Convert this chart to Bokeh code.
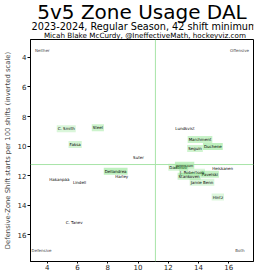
from bokeh.plotting import figure
from bokeh.layouts import column
from bokeh.models import ColumnDataSource, Span, Label, Range1d, FixedTicker
from bokeh.embed import file_html
from bokeh.resources import INLINE
from bokeh.core.properties import value

# ---- data ----
players = ["C. Smith", "Steel", "Faksa", "Suter", "Lundkvist", "Marchment", "Seguin",
           "Duchene", "Dadonov", "Johnston", "Heiskanen", "Pavelski", "J. Robertson",
           "Stankoven", "Jamie Benn", "Hintz", "Dellandrea", "Harley", "Hakanpää",
           "Lindell", "C. Tanev"]
oz_starts = [5.25, 7.34, 5.84, 10.03, 13.10, 14.10, 13.77,
             14.95, 12.66, 13.08, 15.60, 14.75, 13.57,
             13.38, 14.23, 15.28, 8.52, 8.92, 4.79,
             6.13, 5.77]
dz_starts = [8.83, 8.76, 9.90, 10.77, 8.83, 9.56, 10.17,
             10.03, 11.44, 11.30, 11.50, 11.90, 11.78,
             12.04, 12.45, 13.45, 11.71, 12.04, 12.24,
             12.45, 15.19]
shade = [0.22, 0.30, 0.25, 0.0, 0.0, 0.32, 0.28,
         0.38, 0.25, 0.35, 0.0, 0.35, 0.22,
         0.30, 0.22, 0.20, 0.38, 0.0, 0.0,
         0.0, 0.0]
league_oz = 11.15
league_dz = 11.25
x_ticks = [4, 6, 8, 10, 12, 14, 16]
y_ticks = [4, 6, 8, 10, 12, 14, 16]

title = "5v5 Zone Usage DAL"
subtitle = "2023-2024, Regular Season, 42 shift minimum"
credit = "Micah Blake McCurdy, @IneffectiveMath, hockeyviz.com"
y_label = "Defensive-Zone Shift starts per 100 shifts (inverted scale)"
quadrants = ["Neither", "Offensive", "Defensive", "Both"]

FONT = "DejaVu Sans"
W, H, HEAD = 267, 272, 39
x0, x1 = 2.885, 17.64
y0, y1 = 17.81, 2.79

# ---- header strip (titles), 1 unit = 1 px ----
head = figure(width=W, height=HEAD, output_backend="svg", toolbar_location=None,
              x_range=Range1d(0, W), y_range=Range1d(HEAD, 0),
              min_border=0, min_border_left=0, min_border_right=0,
              min_border_top=0, min_border_bottom=0)
head.axis.visible = False
head.grid.visible = False
head.outline_line_color = None
head.background_fill_color = "white"
head.border_fill_color = "white"
head_src = ColumnDataSource(dict(
    x=[133.5, 136.5, 137], y=[11.5, 25.5, 34.5],
    text=[title, subtitle, credit],
    size=["20px", "9.7px", "7.2px"]))
head.text(x="x", y="y", text="text", source=head_src, text_font=value(FONT),
          text_font_size="size", text_align="center", text_baseline="alphabetic",
          text_color="black")

# ---- main plot ----
p = figure(width=W, height=H - HEAD, output_backend="svg", toolbar_location=None,
           x_range=Range1d(x0, x1), y_range=Range1d(y0, y1),
           min_border_left=28, min_border_right=14, min_border_top=0, min_border_bottom=9)
p.background_fill_color = "white"
p.border_fill_color = "white"
p.outline_line_color = "black"
p.outline_line_width = 1
p.grid.visible = False

for ax in (p.xaxis[0], p.yaxis[0]):
    ax.major_label_text_font = FONT
    ax.major_label_text_font_size = "7px"
    ax.major_label_text_color = "#222222"
    ax.minor_tick_line_color = None
    ax.major_tick_in = 0
    ax.major_tick_out = 3
    ax.major_label_standoff = 1
    ax.axis_line_color = "black"
p.xaxis.major_label_standoff = 0
p.xaxis.major_tick_out = 2
p.xaxis.ticker = FixedTicker(ticks=x_ticks)
p.yaxis.ticker = FixedTicker(ticks=y_ticks)
p.yaxis.axis_label = y_label
p.yaxis.axis_label_text_font = FONT
p.yaxis.axis_label_text_font_size = "6.8px"
p.yaxis.axis_label_text_font_style = "normal"
p.yaxis.axis_label_standoff = 3

p.add_layout(Span(location=league_oz, dimension="height", line_color="#a8e4a8", line_width=1))
p.add_layout(Span(location=league_dz, dimension="width", line_color="#a8e4a8", line_width=1))

src = ColumnDataSource(dict(x=oz_starts, y=dz_starts, name=players, shade=shade))
p.text(x="x", y="y", text="name", source=src, text_align="center", text_baseline="middle",
       text_font=value(FONT), text_font_size="4px", text_color="black",
       background_fill_color="#55d855", background_fill_alpha="shade", padding=1)

# quadrant labels (axes-fraction placement)
def fx(frac):
    return x0 + frac * (x1 - x0)

def fy(frac):
    return y1 + frac * (y0 - y1)

for txt, fxv, fyv, al in zip(quadrants, [0.02, 0.98, 0.005, 0.96], [0.05, 0.05, 0.95, 0.95],
                             ["left", "right", "left", "right"]):
    p.add_layout(Label(x=fx(fxv), y=fy(fyv), text=txt, text_font=FONT, text_font_size="4px",
                       text_align=al, text_baseline="middle"))

layout = column(head, p, spacing=0)
open("out.html", "w").write(file_html(layout, INLINE))
